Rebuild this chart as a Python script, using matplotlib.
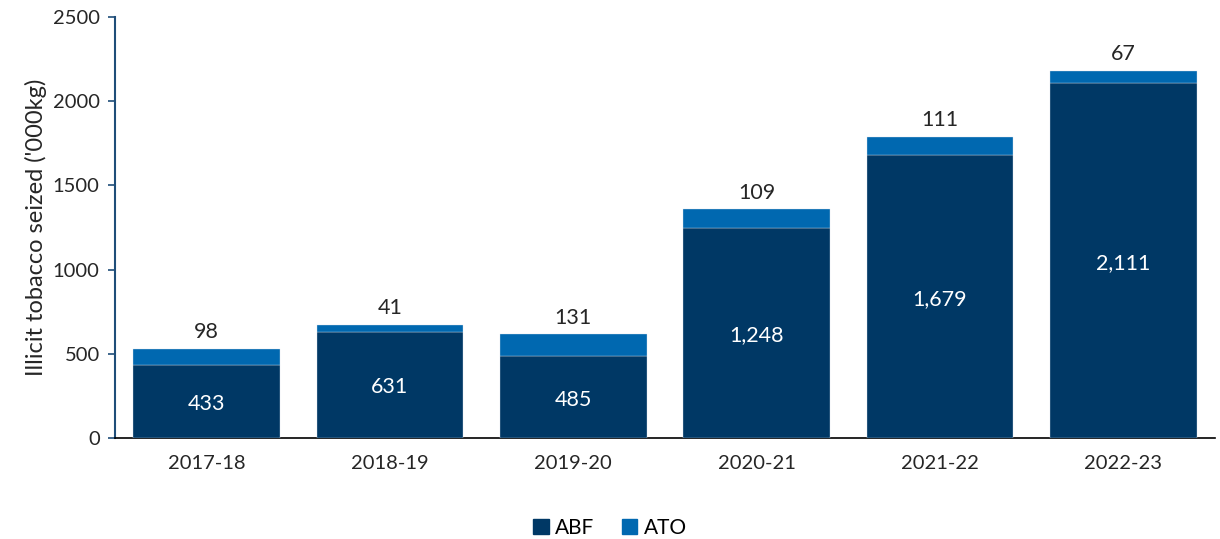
import matplotlib
matplotlib.use("Agg")
import matplotlib.pyplot as plt
from matplotlib.patches import Patch
import numpy as np

years = ["2017-18", "2018-19", "2019-20", "2020-21", "2021-22", "2022-23"]
abf = [433, 631, 485, 1248, 1679, 2111]
ato = [98, 41, 131, 109, 111, 67]

C_ABF = "#003865"
C_ATO = "#0068B0"
TXT = "#262626"

plt.rcParams["font.family"] = ["Lato", "DejaVu Sans"]

fig = plt.figure(figsize=(12.2, 5.39), dpi=100)
ax = fig.add_axes([115 / 1220, 1 - 438 / 539, 1100 / 1220, 421 / 539])

x = np.arange(len(years))
ax.bar(x, abf, width=0.8, color=C_ABF, edgecolor="#d9e2ec", linewidth=0.25, zorder=3)
ax.bar(x, ato, bottom=abf, width=0.8, color=C_ATO, edgecolor="#d9e2ec", linewidth=0.25, zorder=3)

for i in range(len(years)):
    ax.text(x[i], abf[i] / 2 - 15, f"{abf[i]:,}", ha="center", va="center",
            fontsize=15.5, color="white", zorder=4)
    ax.text(x[i], abf[i] + ato[i] + 40, f"{ato[i]:,}", ha="center", va="bottom",
            fontsize=15.5, color=TXT, zorder=4)

ax.set_xlim(-0.5, len(years) - 0.5)
ax.set_ylim(0, 2500)
ax.set_yticks(range(0, 2501, 500))
ax.set_xticks(x)
ax.set_xticklabels(years)
ax.tick_params(axis="x", length=0, pad=12, labelsize=14.5, labelcolor=TXT)
ax.tick_params(axis="y", length=5, width=1.2, color="#1F4E79", labelsize=14.5, labelcolor=TXT, pad=6)
ax.set_ylabel("Illicit tobacco seized ('000kg)", fontsize=17, color=TXT, labelpad=4)

for s in ["top", "right"]:
    ax.spines[s].set_visible(False)
ax.spines["left"].set_color("#1F4E79")
ax.spines["left"].set_linewidth(1.5)
ax.spines["bottom"].set_color("black")
ax.spines["bottom"].set_linewidth(1.2)

handles = [Patch(color=C_ABF, label="ABF"), Patch(color=C_ATO, label="ATO")]
fig.legend(handles=handles, loc="center", bbox_to_anchor=(0.5, 1 - 528 / 539),
           ncol=2, frameon=False, fontsize=15, handlelength=0.75, handleheight=0.75,
           handletextpad=0.3, columnspacing=1.3)

fig.savefig("out.png", dpi=100)
